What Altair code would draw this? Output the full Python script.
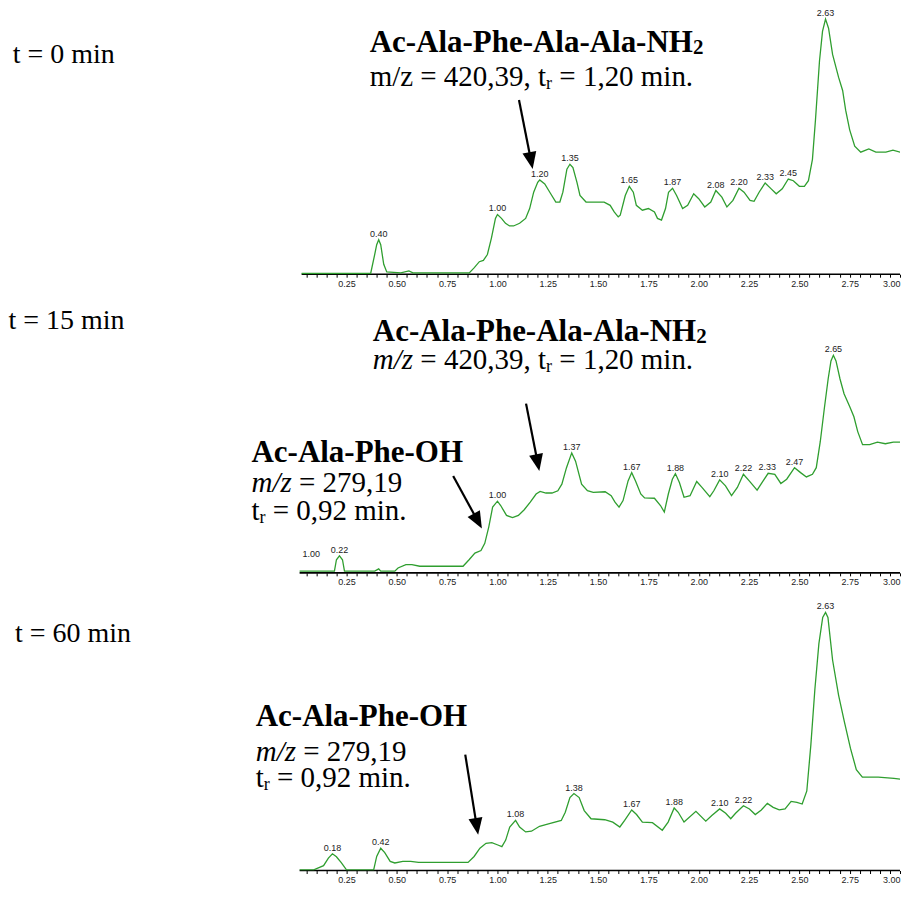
import math
import altair as alt
import pandas as pd

# ---------------- data ----------------
# retention time (min) and detector signal (arbitrary units)
t1 = [0.027, 0.37, 0.39, 0.40, 0.41, 0.42, 0.435, 0.45, 0.52, 0.56, 0.58, 0.86, 0.885, 0.91, 0.93,
      0.95, 0.97, 0.99, 1.00, 1.02, 1.04, 1.06, 1.08, 1.11, 1.14, 1.16, 1.18, 1.20, 1.21, 1.235,
      1.26, 1.29, 1.31, 1.325, 1.345, 1.36, 1.375, 1.395, 1.41, 1.44, 1.49, 1.53, 1.56, 1.58, 1.60,
      1.61, 1.635, 1.655, 1.675, 1.69, 1.72, 1.75, 1.78, 1.795, 1.815, 1.835, 1.85, 1.87, 1.89, 1.92,
      1.945, 1.975, 2.00, 2.03, 2.06, 2.085, 2.115, 2.14, 2.17, 2.20, 2.225, 2.255, 2.275, 2.30, 2.33,
      2.36, 2.385, 2.415, 2.445, 2.47, 2.50, 2.525, 2.545, 2.565, 2.58, 2.60, 2.615, 2.63, 2.645,
      2.665, 2.695, 2.715, 2.73, 2.75, 2.775, 2.805, 2.845, 2.88, 2.93, 2.965, 3.00, 3.04]
h1 = [0.7, 0.7, 20, 30, 35, 30, 10, 2.3, 1.3, 3.3, 1.3, 1.3, 6.7, 12.7, 14,
      20, 36.7, 56.7, 60.7, 56.7, 51.7, 49, 49, 51.7, 56.7, 66.7, 83.3, 93.3, 95.7, 91.7,
      83.3, 73.3, 73.3, 83.3, 106.7, 111.7, 108.3, 93.3, 80, 73.3, 73.3, 73.3, 70, 63.3, 58.3,
      60, 80, 89.3, 83.3, 70, 65, 66.7, 63.3, 56.7, 55, 66.7, 83.3, 87.3, 80, 66.7,
      70, 81.7, 76.7, 68.3, 73.3, 85, 78.3, 68.3, 75, 87.3, 83.3, 75, 74, 83.3, 92.7,
      86.7, 81.7, 86.7, 96.7, 95, 89.3, 89.3, 95, 116.7, 156.7, 216.7, 246.7, 259.3, 250,
      223.3, 200, 186.7, 166.7, 146.7, 130, 124, 127.3, 124, 124, 126, 124, 124]

t2 = [0.017, 0.19, 0.20, 0.215, 0.23, 0.24, 0.39, 0.41, 0.42, 0.49, 0.506, 0.545, 0.575, 0.614,
      0.731, 0.829, 0.859, 0.888, 0.918, 0.937, 0.957, 0.976, 1.00, 1.016, 1.045, 1.075, 1.104,
      1.133, 1.163, 1.192, 1.212, 1.241, 1.271, 1.30, 1.32, 1.343, 1.369, 1.388, 1.418, 1.447,
      1.476, 1.535, 1.565, 1.584, 1.604, 1.624, 1.649, 1.667, 1.686, 1.712, 1.731, 1.78, 1.81,
      1.829, 1.849, 1.869, 1.884, 1.904, 1.927, 1.957, 1.99, 2.016, 2.055, 2.075, 2.104, 2.133,
      2.163, 2.192, 2.222, 2.251, 2.29, 2.32, 2.345, 2.378, 2.408, 2.437, 2.476, 2.506, 2.535,
      2.565, 2.584, 2.604, 2.624, 2.643, 2.657, 2.669, 2.682, 2.702, 2.722, 2.751, 2.771, 2.79,
      2.814, 2.849, 2.888, 2.927, 2.967, 3.016, 3.04]
h2 = [1.7, 1.7, 13.3, 17.3, 13.3, 1.7, 1.7, 4, 1.7, 1.7, 5, 8.3, 8.3, 6.7,
      6.7, 6.7, 13.3, 20, 22.7, 30, 46.7, 66.7, 72.7, 68.3, 58.3, 56, 58.3,
      64, 71.7, 80, 82.7, 81, 81, 83.3, 90, 106.7, 121.7, 113.3, 90, 83.3,
      81.7, 82.3, 78.3, 71.7, 66.7, 73.3, 93.3, 101.7, 93.3, 80, 76, 75.7, 68.3,
      61.7, 80, 95, 100.7, 91.7, 76.7, 78.3, 92.7, 86.7, 77.3, 83.3, 94.3, 88.3,
      78.3, 86.7, 100, 93.3, 84, 93.3, 101, 100, 90.7, 95, 106.7, 101.7, 97.3,
      100, 106.7, 133.3, 166.7, 196.7, 215, 220.7, 215, 196.7, 181.7, 168.3, 158.3, 143.3,
      130, 130, 132.7, 131, 132.7, 132.7, 131]

t3 = [0.017, 0.087, 0.116, 0.136, 0.16, 0.18, 0.20, 0.224, 0.25, 0.385, 0.40, 0.42, 0.44, 0.467,
      0.49, 0.53, 0.569, 0.608, 0.746, 0.854, 0.884, 0.913, 0.943, 0.972, 1.002, 1.022, 1.041,
      1.061, 1.09, 1.11, 1.14, 1.169, 1.209, 1.258, 1.317, 1.337, 1.36, 1.38, 1.406, 1.431, 1.465,
      1.533, 1.573, 1.608, 1.632, 1.667, 1.691, 1.72, 1.77, 1.819, 1.848, 1.878, 1.898, 1.927,
      1.986, 2.035, 2.065, 2.104, 2.134, 2.159, 2.183, 2.222, 2.252, 2.281, 2.311, 2.341, 2.37,
      2.40, 2.429, 2.459, 2.488, 2.514, 2.537, 2.557, 2.577, 2.597, 2.616, 2.63, 2.642, 2.665,
      2.695, 2.724, 2.754, 2.783, 2.813, 2.892, 2.97, 3.04]
h3 = [0.7, 0.7, 3.3, 5, 12.7, 17, 14, 8, 0.7, 0.7, 14.3, 22.7, 18.3, 9.3,
      7.7, 9.3, 9.3, 8.3, 8.3, 8.3, 14.3, 22.7, 27.7, 28.3, 26, 24.3, 31,
      44.3, 51, 44.3, 39.3, 40, 45, 47.7, 51, 59.3, 74.3, 78.3, 74.3, 61, 52.7,
      51.7, 49.3, 44.3, 51, 61.7, 57, 49.3, 48.7, 41, 49.3, 63.7, 59.3, 49.3,
      60.3, 50.3, 56, 62.7, 58.3, 52.7, 58.3, 66, 62.7, 57, 61.7, 68.3, 64.3,
      61.7, 62.7, 70.3, 69.3, 67.7, 81, 127.7, 184.3, 231, 257.7, 262.7, 257.7, 214.3,
      178.3, 151, 124.3, 102.7, 95, 95, 93.7, 92]

# peak retention-time labels
pk1_text = ["0.40", "1.00", "1.20", "1.35", "1.65", "1.87", "2.08", "2.20", "2.33", "2.45", "2.63"]
pk1_t = [0.41, 1.00, 1.21, 1.36, 1.655, 1.87, 2.085, 2.20, 2.33, 2.445, 2.63]
pk1_h = [35, 60.7, 95.7, 111.7, 89.3, 87.3, 85, 87.3, 92.7, 96.7, 259.3]

pk2_text = ["1.00", "0.22", "1.00", "1.37", "1.67", "1.88", "2.10", "2.22", "2.33", "2.47", "2.65"]
pk2_t = [0.075, 0.215, 1.00, 1.369, 1.667, 1.884, 2.104, 2.222, 2.34, 2.476, 2.669]
pk2_h = [13, 17.3, 72.7, 121.7, 101.7, 100.7, 94.3, 100, 101, 106.7, 220.7]

pk3_text = ["0.18", "0.42", "1.08", "1.38", "1.67", "1.88", "2.10", "2.22", "2.63"]
pk3_t = [0.18, 0.42, 1.09, 1.38, 1.667, 1.878, 2.104, 2.222, 2.63]
pk3_h = [17, 22.7, 51, 78.3, 61.7, 63.7, 62.7, 66, 262.7]

# x-axis ticks (labels every 0.25 min, small ticks every 0.05 min)
major_ticks = [0.25, 0.50, 0.75, 1.00, 1.25, 1.50, 1.75, 2.00, 2.25, 2.50, 2.75, 3.00]
minor_ticks = [round(0.05 * k, 2) for k in range(1, 61)]

# ---------------- layout / style ----------------
GREEN = "#2f9e2f"
PX = 201.5                       # pixels per minute
X_DOMAIN = [-1.4318, 3.0]
PLOT_W = 893
PLOT_H = [266, 299, 298]         # plot heights (px)
Y_TOP = [270, 303, 303]          # signal value at the top of each panel
SERIF = "Liberation Serif"
SANS = "Liberation Sans"
SMALL = 9

W_REG = {' ': 250, '=': 564, ',': 250, '.': 250, '/': 278, 'm': 778, 'i': 278, 'n': 500,
         't': 278, 'r': 333, 'z': 444}
W_ITA = {' ': 250, 'm': 722, '/': 278, 'z': 389}
W_BLD = {'A': 722, 'c': 444, '-': 333, 'l': 278, 'a': 500, 'P': 611, 'h': 556, 'e': 444,
         'N': 722, 'H': 778, 'O': 778}
TABLES = {'n': W_REG, 'i': W_ITA, 'b': W_BLD}


def text_width(s, style, fs):
    tab = TABLES[style]
    return sum(tab.get(c, 500) for c in s) / 1000.0 * fs


ann_rows = []


def run(panel, x0, y0, parts):
    off = 0.0
    for txt, style, fs, drop in parts:
        lead = txt[: len(txt) - len(txt.lstrip())]
        ann_rows.append(dict(panel=panel, x=x0 + (off + text_width(lead, style, fs)) / PX,
                             y=y0 - drop, text=txt.strip(), style=style, fs=fs))
        off += text_width(txt, style, fs)


run(0, -1.408, 214.7, [("t = 0 min", 'n', 28, 0)])
run(0, 0.365, 226, [("Ac-Ala-Phe-Ala-Ala-NH", 'b', 31, 0), ("2", 'b', 21, 2)])
run(0, 0.365, 191.3, [("m/z = 420,39, t", 'n', 29, 0), ("r", 'n', 18, 3), (" = 1,20 min.", 'n', 29, 0)])

run(1, -1.4293, 247.7, [("t = 15 min", 'n', 28, 0)])
run(1, 0.381, 235, [("Ac-Ala-Phe-Ala-Ala-NH", 'b', 31, 0), ("2", 'b', 21, 2)])
run(1, 0.381, 206.7, [("m/z", 'i', 29, 0), (" = 420,39, t", 'n', 29, 0), ("r", 'n', 18, 3),
                      (" = 1,20 min.", 'n', 29, 0)])
run(1, -0.222, 112.3, [("Ac-Ala-Phe-OH", 'b', 31, 0)])
run(1, -0.222, 81.7, [("m/z", 'i', 29, 0), (" = 279,19", 'n', 29, 0)])
run(1, -0.222, 53.3, [("t", 'n', 29, 0), ("r", 'n', 18, 3), (" = 0,92 min.", 'n', 29, 0)])

run(2, -1.397, 233, [("t = 60 min", 'n', 28, 0)])
run(2, -0.201, 147.3, [("Ac-Ala-Phe-OH", 'b', 31, 0)])
run(2, -0.201, 111.3, [("m/z", 'i', 29, 0), (" = 279,19", 'n', 29, 0)])
run(2, -0.201, 84.7, [("t", 'n', 29, 0), ("r", 'n', 18, 3), (" = 0,92 min.", 'n', 29, 0)])

ANN = pd.DataFrame(ann_rows)

# arrows: panel, start (t, h), tip (t, h)
arrow_panel = [0, 1, 1, 2]
arrow_x0 = [1.107, 1.142, 0.780, 0.840]
arrow_y0 = [177, 171.7, 98.3, 118]
arrow_x1 = [1.175, 1.208, 0.9226, 0.904]
arrow_y1 = [107, 103.3, 45, 36.3]

HEAD_LEN = 17
arr_rows = []
for p, xa, ya, xb, yb in zip(arrow_panel, arrow_x0, arrow_y0, arrow_x1, arrow_y1):
    ky = PLOT_H[p] / Y_TOP[p]            # px per signal unit in this panel
    dx = (xb - xa) * PX
    dy = (ya - yb) * ky
    n = math.hypot(dx, dy)
    ang = (-math.degrees(math.atan2(dx, dy))) % 360
    back = HEAD_LEN - 3
    arr_rows.append(dict(panel=p, xa=xa, ya=ya, xb=xb, yb=yb,
                         xe=xb - back * dx / n / PX, ye=yb + back * dy / n / ky, ang=ang))
ARR = pd.DataFrame(arr_rows)
HEAD = "M0,0 L-1.4,-3.4 L1.4,-3.4 Z"

CURVES = [(t1, h1), (t2, h2), (t3, h3)]
PEAKS = [(pk1_text, pk1_t, pk1_h), (pk2_text, pk2_t, pk2_h), (pk3_text, pk3_t, pk3_h)]
AX_START = [0.027, 0.017, 0.017]

XS = alt.Scale(domain=X_DOMAIN, nice=False, zero=False)
X_AX = alt.Axis(values=minor_ticks, title=None, domain=False, grid=False, tickSize=3,
                tickColor="black", tickWidth=1, labelFont=SANS, labelFontSize=SMALL,
                labelColor="#222", labelPadding=2, labelOverlap=False, labelFlush=True,
                labelExpr="abs(datum.value*4 - round(datum.value*4)) < 0.001 ? format(datum.value, '.2f') : ''")


def xe(f):
    return alt.X(f, type="quantitative", scale=XS, axis=X_AX)


def panel(i):
    H = PLOT_H[i]
    YS = alt.Scale(domain=[0, Y_TOP[i]], nice=False, zero=True)

    def ye(f):
        return alt.Y(f, type="quantitative", scale=YS, axis=None)

    tt, hh = CURVES[i]
    curve = pd.DataFrame({"t": tt, "h": hh})
    base = pd.DataFrame({"t": [AX_START[i]], "t2": [X_DOMAIN[1]], "h": [0]})
    lab, pt, ph = PEAKS[i]
    peaks = pd.DataFrame({"t": pt, "h": ph, "lab": lab})
    ann = ANN[ANN.panel == i]
    arr = ARR[ARR.panel == i]

    layers = [
        alt.Chart(base).mark_rule(color="black", strokeWidth=1.6).encode(
            x=xe("t"), x2="t2", y=ye("h")),
        alt.Chart(curve).mark_line(color=GREEN, strokeWidth=1.3, clip=True).encode(
            x=xe("t"), y=ye("h")),
        alt.Chart(peaks).mark_text(font=SANS, fontSize=SMALL, color="#222", baseline="alphabetic",
                                   dy=-3).encode(x=xe("t"), y=ye("h"), text="lab:N"),
    ]
    for style, kw in [("n", {}), ("b", {"fontWeight": "bold"}), ("i", {"fontStyle": "italic"})]:
        d = ann[ann["style"] == style]
        if len(d):
            layers.append(
                alt.Chart(d).mark_text(font=SERIF, align="left", baseline="alphabetic",
                                       color="black", **kw).encode(
                    x=xe("x"), y=ye("y"), text="text:N",
                    size=alt.Size("fs:Q", scale=None, legend=None)))
    layers.append(alt.Chart(arr).mark_rule(color="black", strokeWidth=2.2).encode(
        x=xe("xa"), y=ye("ya"), x2="xe", y2="ye"))
    layers.append(alt.Chart(arr).mark_point(shape=HEAD, filled=True, size=100, color="black",
                                            opacity=1, strokeWidth=0).encode(
        x=xe("xb"), y=ye("yb"), angle=alt.Angle("ang:Q", scale=None)))
    return alt.layer(*layers).properties(width=PLOT_W, height=H)


chart = alt.vconcat(panel(0), panel(1), panel(2), spacing=0, bounds="flush").properties(
    padding=0, background="white").configure_view(stroke=None)

chart.save("out.html", embed_options={"renderer": "svg", "actions": False})
